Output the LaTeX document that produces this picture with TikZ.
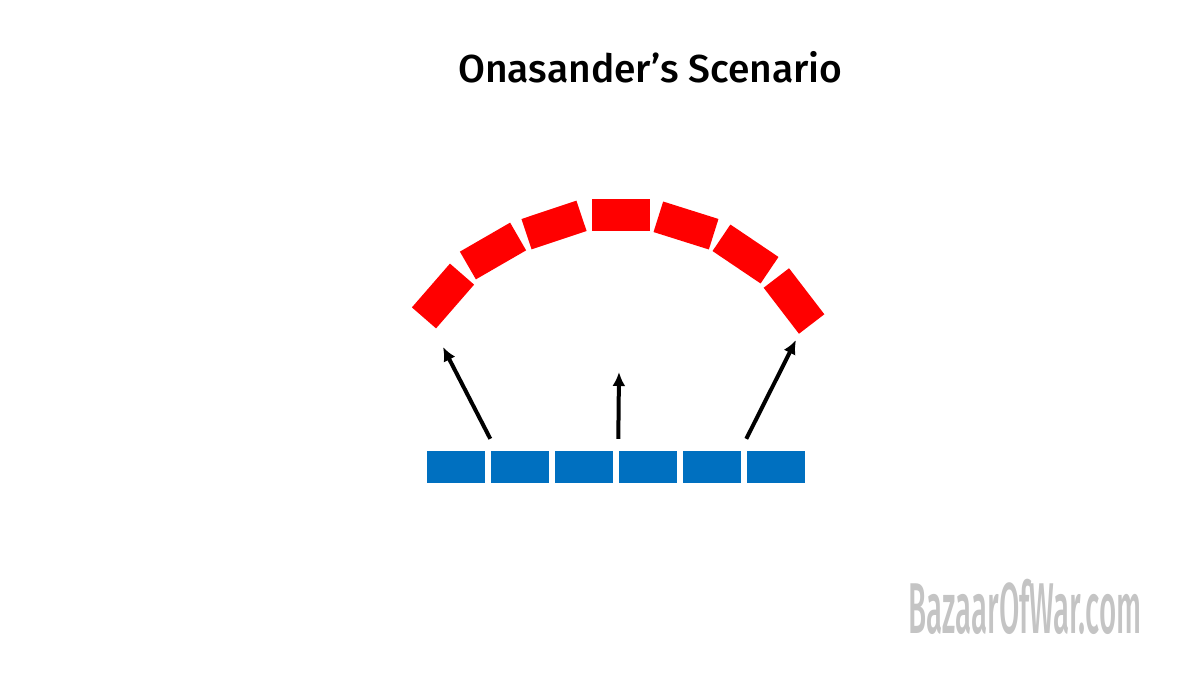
\documentclass[tikz,border=0pt]{standalone}
\usepackage{fontspec}
\setmainfont{Fira Sans}
\newfontfamily\titlefont{Fira Sans Medium}
\newfontfamily\markfont[FakeStretch=0.41]{Fira Sans Medium}
\usetikzlibrary{arrows.meta}

\definecolor{redblock}{HTML}{FF0000}
\definecolor{blueblock}{HTML}{0070C0}
\definecolor{markgray}{HTML}{C4C4C4}

\begin{document}
\begin{tikzpicture}[x=1pt, y=-1pt,
redunit/.style={fill=redblock, minimum width=58pt, minimum height=32pt, inner sep=0pt},
blueunit/.style={fill=blueblock, minimum width=58pt, minimum height=32pt, inner sep=0pt},
pushline/.style={draw=black, line width=4pt, -{Latex[length=14pt,width=13pt]}}]

\def\pitch{64}	% Abstand der blauen Bloecke
\def\rowy{467}
\def\lift{12pt}	% Pfeile beginnen ueber der Linie

\useasboundingbox (0,0) rectangle (1200,675);

% Titel
\node[anchor=base, font=\titlefont\fontsize{39}{46}\selectfont] (title) at (650.5,82) {Onasander’s Scenario};

% Bogen (rot)
\foreach \x/\y/\a [count=\i] in {443/296/49, 493/251/30, 554/225/18.5, 620.5/215/0, 686/225.5/-17.5, 745.5/254/-34, 794/301/-52.5}
  \node[redunit, rotate=\a] (r\i) at (\x,\y) {};

% Linie (blau)
\foreach \i in {1,...,6}
  \node[blueunit] (b\i) at ({455.5+\pitch*(\i-1)},\rowy) {};

% Pfeile
\coordinate (headl) at (443,347);
\coordinate (headm) at (619,372);
\coordinate (headr) at (796,340);
\draw[pushline] ([yshift=\lift]b2.north west) -- (headl);
\draw[pushline] ([yshift=\lift]b4.north west) -- (headm);
\draw[pushline] ([yshift=\lift]b6.north west) -- (headr);

% Wasserzeichen
\node[anchor=base, text=markgray, font=\markfont\fontsize{72}{80}\selectfont] (mark) at (1025,633) {BazaarOfWar.com};

\end{tikzpicture}
\end{document}
